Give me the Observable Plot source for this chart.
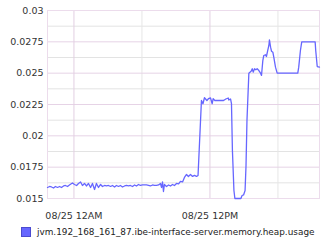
<!DOCTYPE html>
<html>
<head>
<meta charset="utf-8">
<script src="https://cdn.jsdelivr.net/npm/d3@7"></script>
<script src="https://cdn.jsdelivr.net/npm/@observablehq/plot@0.6"></script>
<style>
  html, body { margin: 0; padding: 0; background: #fff; }
  #legend { display: flex; align-items: center; padding: 5px 0 0 21px; font: 8.9px "DejaVu Sans", sans-serif; color: #222; white-space: nowrap; }
  #legend .sw { flex: none; width: 8px; height: 8px; background: #6666ff; border: 1px solid #4b4bd0; margin-right: 6px; }
</style>
</head>
<body>
<div id="chart"></div>
<script>
const seriesName = "jvm.192_168_161_87.ibe-interface-server.memory.heap.usage";
const times = [
  "08/24 21:40","08/24 21:51","08/24 22:01","08/24 22:12","08/24 22:22","08/24 22:33","08/24 22:44","08/24 22:54",
  "08/24 23:05","08/24 23:15","08/24 23:26","08/24 23:36","08/24 23:52","08/25 00:03","08/25 00:14","08/25 00:24",
  "08/25 00:35","08/25 00:45","08/25 00:56","08/25 01:06","08/25 01:17","08/25 01:28","08/25 01:38","08/25 01:49",
  "08/25 01:59","08/25 02:10","08/25 02:21","08/25 02:31","08/25 02:42","08/25 02:52","08/25 03:03","08/25 03:14",
  "08/25 03:24","08/25 03:35","08/25 03:45","08/25 03:56","08/25 04:06","08/25 04:17","08/25 04:28","08/25 04:38",
  "08/25 04:49","08/25 04:59","08/25 05:10","08/25 05:21","08/25 05:31","08/25 05:42","08/25 05:52","08/25 06:03",
  "08/25 06:14","08/25 06:24","08/25 06:35","08/25 06:45","08/25 06:56","08/25 07:06","08/25 07:17","08/25 07:28",
  "08/25 07:38","08/25 07:44","08/25 07:49","08/25 07:54","08/25 07:59","08/25 08:10","08/25 08:21","08/25 08:31",
  "08/25 08:42","08/25 08:52","08/25 09:03","08/25 09:14","08/25 09:24","08/25 09:35","08/25 09:45","08/25 09:56",
  "08/25 10:06","08/25 10:17","08/25 10:28","08/25 10:38","08/25 10:49","08/25 10:57","08/25 11:15","08/25 11:23",
  "08/25 11:31","08/25 11:44","08/25 11:52","08/25 12:03","08/25 12:12","08/25 12:17","08/25 12:26","08/25 12:40",
  "08/25 12:56","08/25 13:12","08/25 13:24","08/25 13:37","08/25 13:40","08/25 13:49","08/25 13:54","08/25 13:59",
  "08/25 14:07","08/25 14:12","08/25 14:26","08/25 14:44","08/25 14:50","08/25 14:58","08/25 15:06","08/25 15:11",
  "08/25 15:16","08/25 15:26","08/25 15:38","08/25 15:44","08/25 15:49","08/25 15:56","08/25 16:03","08/25 16:10",
  "08/25 16:19","08/25 16:28","08/25 16:33","08/25 16:40","08/25 16:45","08/25 16:54","08/25 16:59","08/25 17:06",
  "08/25 17:12","08/25 17:15","08/25 17:21","08/25 17:26","08/25 17:33","08/25 17:38","08/25 17:47","08/25 17:56",
  "08/25 19:45","08/25 19:50","08/25 19:59","08/25 20:06","08/25 21:17","08/25 21:20","08/25 21:28","08/25 21:40"
];
const values = [
  0.01588,0.01596,0.01592,0.01584,0.01596,0.01588,0.01596,0.01588,
  0.01600,0.01604,0.01596,0.01608,0.01624,0.01612,0.01604,0.01620,
  0.01632,0.01604,0.01620,0.01600,0.01620,0.01588,0.01620,0.01572,
  0.01620,0.01588,0.01612,0.01596,0.01604,0.01600,0.01604,0.01596,
  0.01604,0.01592,0.01604,0.01596,0.01604,0.01592,0.01600,0.01604,
  0.01600,0.01604,0.01596,0.01608,0.01600,0.01612,0.01604,0.01608,
  0.01608,0.01608,0.01604,0.01600,0.01608,0.01604,0.01604,0.01608,
  0.01620,0.01588,0.01632,0.01556,0.01612,0.01596,0.01608,0.01600,
  0.01612,0.01604,0.01620,0.01616,0.01636,0.01632,0.01668,0.01692,
  0.01676,0.01692,0.01676,0.01684,0.01676,0.01684,0.02282,0.02256,
  0.02304,0.02282,0.02296,0.02302,0.02256,0.02296,0.02282,0.02282,
  0.02282,0.02282,0.02294,0.02302,0.02286,0.02294,0.02256,0.01883,
  0.01564,0.01500,0.01500,0.01500,0.01524,0.01528,0.01564,0.01763,
  0.02122,0.02500,0.02516,0.02535,0.02508,0.02535,0.02527,0.02535,
  0.02521,0.02500,0.02482,0.02601,0.02641,0.02647,0.02633,0.02681,
  0.02721,0.02766,0.02707,0.02675,0.02667,0.02628,0.02548,0.02500,
  0.02500,0.02548,0.02681,0.02750,0.02750,0.02681,0.02553,0.02548
];
const xDomain = ["08/24 21:40", "08/25 21:40"];
const xMajorTicks = ["08/25 00:00", "08/25 12:00"];
const xMinorTicks = ["08/25 06:00", "08/25 18:00"];
const xTickLabels = ["08/25 12AM", "08/25 12PM"];
const yMajorTicks = [0.015, 0.0175, 0.02, 0.0225, 0.025, 0.0275, 0.03];
const yMinorTicks = [0.01625, 0.01875, 0.02125, 0.02375, 0.02625, 0.02875];
const yTickLabels = ["0.015", "0.0175", "0.02", "0.0225", "0.025", "0.0275", "0.03"];

const parse = d3.utcParse("%m/%d %H:%M");
const data = times.map((t, i) => ({time: parse(t), value: values[i]}));
const xMaj = xMajorTicks.map(parse);
const xMin = xMinorTicks.map(parse);

const chart = Plot.plot({
  width: 330,
  height: 222,
  marginTop: 10,
  marginLeft: 47,
  marginRight: 11,
  marginBottom: 24,
  style: {fontFamily: "DejaVu Sans, sans-serif", fontSize: "9.5px", color: "#333", background: "#fff"},
  x: {type: "utc", domain: xDomain.map(parse)},
  y: {domain: [0.015, 0.03]},
  marks: [
    Plot.ruleY(yMinorTicks, {stroke: "#e3e3e3", strokeWidth: 1}),
    Plot.ruleX(xMin, {stroke: "#e6e6e6", strokeWidth: 1}),
    Plot.ruleY(yMajorTicks, {stroke: "#e6d3e6", strokeWidth: 1}),
    Plot.ruleX(xMaj, {stroke: "#e2cfe2", strokeWidth: 1}),
    Plot.frame({stroke: "#ecdcec"}),
    Plot.axisY(yMajorTicks, {tickSize: 0, tickPadding: 4, label: null, tickFormat: d => yTickLabels[yMajorTicks.indexOf(d)]}),
    Plot.axisX(xMaj, {tickSize: 0, tickPadding: 14, label: null, tickFormat: d => xTickLabels[xMaj.findIndex(e => +e === +d)]}),
    Plot.line(data, {x: "time", y: "value", stroke: "#6666ff", strokeWidth: 1.3})
  ]
});
document.getElementById("chart").append(chart);

const legend = document.createElement("div");
legend.id = "legend";
legend.innerHTML = `<span class="sw"></span><span></span>`;
legend.lastChild.textContent = seriesName;
document.body.append(legend);
</script>
</body>
</html>
